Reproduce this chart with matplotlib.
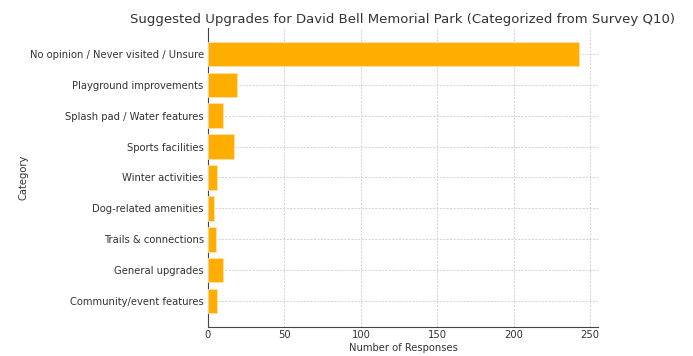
import matplotlib.pyplot as plt

categories = [
    'No opinion / Never visited / Unsure',
    'Playground improvements',
    'Splash pad / Water features',
    'Sports facilities',
    'Winter activities',
    'Dog-related amenities',
    'Trails & connections',
    'General upgrades',
    'Community/event features',
]
counts = [243, 19, 10, 17, 6, 4, 5, 10, 6]

text_color = '#333333'

fig, ax = plt.subplots(figsize=(6.93, 3.56), dpi=100)
fig.subplots_adjust(left=0.3, right=0.863, top=0.921, bottom=0.082)

ax.barh(categories, counts, color='#FFAE00', edgecolor='#FFE3A8', linewidth=0.6, zorder=3)
ax.invert_yaxis()

ax.set_title('Suggested Upgrades for David Bell Memorial Park (Categorized from Survey Q10)',
             fontsize=9.5, color=text_color, pad=4)
ax.set_xlabel('Number of Responses', fontsize=7.2, color=text_color, labelpad=2)
ax.set_ylabel('Category', fontsize=7.2, color=text_color, labelpad=1)
ax.tick_params(axis='both', labelsize=7.2, labelcolor=text_color, color='#444444',
               length=3, direction='in')
ax.tick_params(axis='y', pad=3)
ax.tick_params(axis='x', length=0, pad=2.5)

ax.grid(True, linestyle=(0, (2, 1.5)), color='#d0d0d0', linewidth=0.7, zorder=0)
for side in ['top', 'right']:
    ax.spines[side].set_visible(False)
for side in ['left', 'bottom']:
    ax.spines[side].set_color('#444444')

plt.savefig('out.png', dpi=100)
